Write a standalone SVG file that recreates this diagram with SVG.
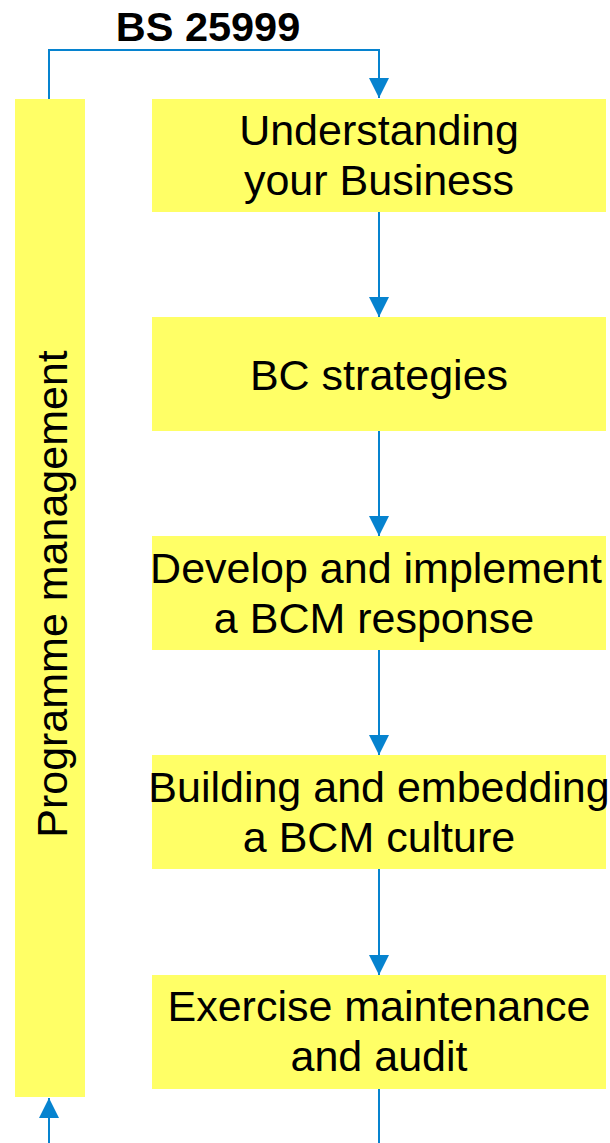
<svg xmlns="http://www.w3.org/2000/svg" width="610" height="1143" viewBox="0 0 610 1143">
<style>
.box{fill:#FFFF66;}
.t{font-family:"Liberation Sans",Arial,sans-serif;font-size:43px;fill:#000;text-anchor:middle;}
.title{font-family:"Liberation Sans",Arial,sans-serif;font-size:41.5px;font-weight:bold;fill:#000;text-anchor:middle;}
.c{fill:none;stroke:#0683CF;stroke-width:2;}
</style>
<defs>
<marker id="ah" markerWidth="20" markerHeight="20" refX="20" refY="10" orient="auto" markerUnits="userSpaceOnUse" viewBox="0 0 20 20">
<path d="M0,0 L20,10 L0,20 Z" fill="#0683CF"/>
</marker>
</defs>
<text class="title" x="208" y="41">BS 25999</text>
<g id="connectors">
<path class="c" d="M49,99 V50 H379 V98" marker-end="url(#ah)"/>
<path class="c" d="M379,212 V317" marker-end="url(#ah)"/>
<path class="c" d="M379,431 V536" marker-end="url(#ah)"/>
<path class="c" d="M379,650 V755" marker-end="url(#ah)"/>
<path class="c" d="M379,869 V975" marker-end="url(#ah)"/>
<path class="c" d="M379,1089 V1143"/>
<path class="c" d="M49,1143 V1098" marker-end="url(#ah)"/>
</g>
<g id="programme">
<rect class="box" x="15" y="99" width="70" height="998"/>
<text class="t" transform="translate(67,594) rotate(-90)" x="0" y="0">Programme management</text>
</g>
<g id="n1">
<rect class="box" x="152" y="99" width="454" height="113"/>
<text class="t" x="379" y="145">Understanding</text>
<text class="t" x="379" y="195">your Business</text>
</g>
<g id="n2">
<rect class="box" x="152" y="317" width="454" height="114"/>
<text class="t" x="379" y="390">BC strategies</text>
</g>
<g id="n3">
<rect class="box" x="152" y="536" width="454" height="114"/>
<text class="t" x="376" y="583">Develop and implement</text>
<text class="t" x="374" y="633">a BCM response</text>
</g>
<g id="n4">
<rect class="box" x="152" y="755" width="454" height="114"/>
<text class="t" x="379" y="802">Building and embedding</text>
<text class="t" x="379" y="852">a BCM culture</text>
</g>
<g id="n5">
<rect class="box" x="152" y="975" width="454" height="114"/>
<text class="t" x="379" y="1021">Exercise maintenance</text>
<text class="t" x="379" y="1071">and audit</text>
</g>
</svg>
